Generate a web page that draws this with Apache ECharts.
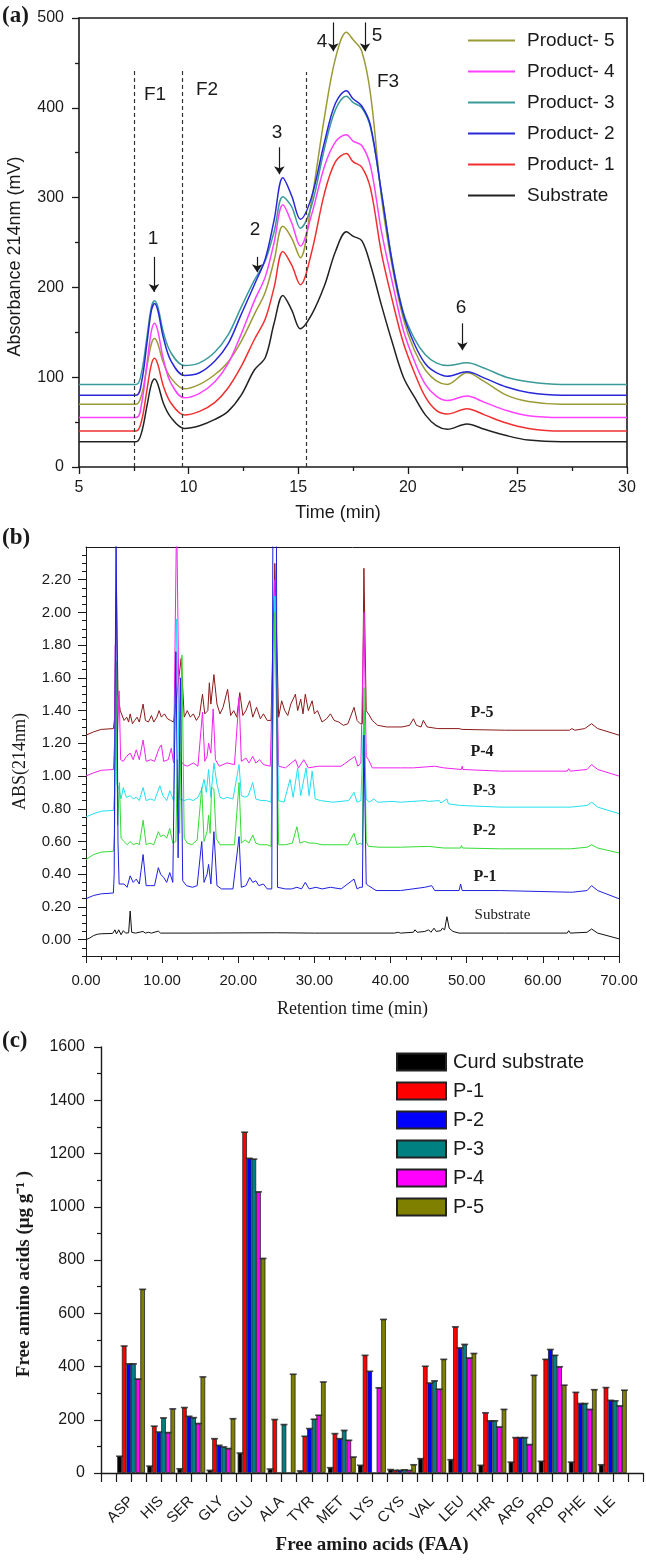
<!DOCTYPE html>
<html><head><meta charset="utf-8">
<script src="https://cdn.jsdelivr.net/npm/echarts@6/dist/echarts.min.js"></script>
<style>html,body{margin:0;padding:0;background:#fff}#c{width:646px;height:1561px}</style>
</head><body><div id="c"></div>
<script>
// ================= Panel (a): SEC chromatograms =================
const timeA = [5, 7.6, 7.85, 8.1, 8.3, 8.45, 8.6, 8.85, 9.2, 9.8, 10.5, 11.2, 11.8, 12.4, 13.0, 13.5, 13.9, 14.3, 14.7, 15.1, 15.6, 16.2, 16.7, 17.2, 17.5, 17.9, 18.3, 18.8, 19.3, 19.8, 20.3, 20.8, 21.3, 21.8, 22.7, 23.5, 24.5, 25.5, 27, 30];
const substrateA = [28,28,38,68,92,98,92,71,55,43, 46,53,62,80,108,122,160,191,175,154, 169,202,240,262,257,252,225,180,138,100, 78,58,46,42,48,42,35,30,28,28];
const product1A = [40,40,51,86,114,121,114,90,71,58, 62,72,88,112,142,165,200,240,225,203, 238,305,340,349,340,334,310,238,185,138, 105,78,63,59,65,58,49,43,40,40];
const product2A = [80,80,94,138,174,182,174,144,118,102, 105,118,137,170,203,232,275,322,302,276, 300,362,405,419,410,402,380,305,226,170, 137,115,105,101,106,99,89,83,80,80];
const product3A = [92,92,105,145,178,185,178,150,127,113, 116,128,147,178,208,230,262,301,290,266, 290,355,398,413,406,400,378,305,228,172, 143,125,116,113,116,110,100,95,92,92];
const product4A = [55,55,70,115,151,160,151,120,93,77, 82,95,115,148,185,212,250,292,272,246, 280,335,362,370,363,358,335,262,205,152, 118,92,79,74,79,72,63,57,55,55];
const product5A = [70,70,80,112,137,143,137,116,99,87, 92,103,117,140,170,195,230,268,255,233, 295,390,455,484,476,463,415,300,222,165, 130,108,96,92,105,95,80,73,70,70];
const namesA = ['Product- 5','Product- 4','Product- 3','Product- 2','Product- 1','Substrate'];
// fraction boundaries (x, top value), peak arrows (x, from, to), labels
const dashA = [[7.51, 443], [9.73, 441], [15.36, 440]];
const arrowsA = [[8.42, 234, 195], [13.13, 234, 217], [14.14, 356, 326], [16.6, 495, 463], [18.05, 495, 463], [22.49, 160, 130]];
const textA = [['F1', 8.47, 415], ['F2', 10.84, 420], ['F3', 19.1, 429], ['1', 8.38, 254], ['2', 13.03, 264], ['3', 14.03, 372], ['4', 16.09, 474], ['5', 18.6, 480], ['6', 22.43, 177]];

// ================= Panel (b): RP-HPLC chromatograms =================
const hplcSub = [[0,0.0],[0.5,0.01],[1,0.025],[1.5,0.033],[2,0.036],[3.5,0.038],[3.8,0.06],[4.0,0.035],[4.3,0.06],[4.6,0.03],[4.9,0.055],[5.2,0.04],[5.6,0.042],[5.8,0.175],[6.0,0.045],[6.5,0.04],[7.5,0.05],[7.8,0.04],[8.2,0.045],[8.6,0.04],[9.5,0.052],[9.8,0.04],[13,0.04],[25,0.042],[30,0.04],[40.5,0.04],[41,0.045],[41.3,0.04],[43.0,0.045],[43.2,0.06],[43.5,0.045],[44.5,0.05],[45.0,0.06],[45.3,0.045],[45.7,0.07],[46.0,0.05],[46.6,0.055],[46.8,0.07],[47.1,0.06],[47.4,0.14],[47.7,0.07],[48.2,0.05],[49,0.04],[55,0.04],[63.2,0.04],[63.4,0.055],[63.6,0.04],[65.8,0.045],[66.4,0.065],[67.2,0.04],[70,0.005]];
const hplcP1 = [[0,0.25],[1,0.27],[2,0.28],[3.6,0.285],[3.7,0.4],[3.95,2.6],[4.2,0.6],[4.35,0.34],[4.6,0.33],[5.0,0.34],[5.4,0.32],[5.8,0.39],[6.2,0.35],[6.6,0.37],[7.0,0.34],[7.5,0.52],[7.9,0.33],[8.5,0.33],[9.0,0.33],[9.5,0.44],[9.8,0.40],[10.2,0.38],[10.6,0.35],[11.0,0.41],[11.4,0.35],[11.8,1.76],[12.1,0.5],[12.4,1.6],[12.7,0.36],[13.2,0.33],[14.0,0.32],[14.6,0.33],[15.2,0.60],[15.5,0.35],[15.9,0.40],[16.1,0.46],[16.4,0.34],[16.8,0.66],[17.2,0.33],[17.8,0.31],[18.5,0.31],[19.3,0.31],[20.1,0.63],[20.4,0.32],[21.0,0.33],[21.5,0.38],[21.9,0.35],[22.3,0.36],[22.7,0.33],[23.3,0.34],[23.8,0.31],[24.4,0.31],[24.55,2.6],[25.0,2.6],[25.15,0.32],[26.2,0.31],[27.0,0.31],[27.7,0.32],[28.3,0.31],[28.8,0.35],[29.3,0.31],[30.2,0.32],[31.0,0.31],[32.1,0.32],[33.5,0.31],[35.2,0.37],[35.6,0.31],[36.0,0.32],[36.3,0.32],[36.5,1.25],[36.8,0.34],[37.1,0.33],[38.1,0.30],[41.3,0.30],[44.5,0.32],[45.4,0.33],[45.8,0.30],[49.0,0.30],[49.2,0.34],[49.4,0.30],[54.4,0.30],[63.5,0.29],[63.7,0.30],[63.9,0.29],[65.8,0.30],[66.4,0.33],[67.2,0.30],[70,0.25]];
const hplcP2 = [[0,0.49],[1,0.52],[2,0.535],[3.6,0.54],[3.75,0.65],[3.95,1.7],[4.15,0.7],[4.4,0.96],[4.6,0.62],[5.0,0.60],[5.4,0.58],[5.8,0.60],[6.2,0.58],[6.7,0.59],[7.0,0.58],[7.5,0.73],[7.9,0.58],[8.4,0.59],[8.9,0.58],[9.5,0.66],[9.8,0.63],[10.2,0.64],[10.6,0.62],[11.0,0.68],[11.4,0.59],[11.8,0.6],[12.0,1.1],[12.3,0.65],[12.6,1.74],[12.9,0.62],[13.3,0.59],[13.9,0.58],[14.6,0.61],[15.2,0.93],[15.5,0.60],[15.9,0.66],[16.1,0.76],[16.3,0.65],[16.5,0.93],[16.8,0.92],[17.1,0.62],[17.6,0.58],[18.5,0.58],[19.5,0.58],[20.1,0.96],[20.4,0.59],[20.9,0.61],[21.4,0.59],[21.9,0.64],[22.3,0.59],[22.9,0.58],[23.8,0.58],[24.3,0.57],[24.8,2.0],[25.3,0.58],[26.2,0.58],[27.1,0.59],[27.7,0.69],[28.1,0.59],[28.7,0.60],[29.4,0.59],[30.0,0.59],[31.0,0.58],[32.4,0.58],[34.4,0.58],[35.2,0.65],[35.6,0.58],[36.0,0.59],[36.3,0.58],[36.5,1.54],[36.8,0.60],[37.1,0.57],[38.5,0.565],[41.3,0.565],[45.0,0.57],[47.0,0.56],[49.2,0.56],[49.3,0.575],[49.45,0.56],[54.4,0.555],[63.2,0.555],[63.4,0.565],[63.6,0.555],[65.8,0.565],[66.4,0.58],[67.2,0.56],[70,0.53]];
const hplcP3 = [[0,0.75],[1,0.77],[2,0.785],[3.6,0.79],[3.75,0.9],[3.9,1.55],[4.05,0.95],[4.3,0.93],[4.6,0.86],[4.9,0.93],[5.3,0.87],[5.8,0.88],[6.2,0.86],[6.6,0.87],[7.0,0.85],[7.5,0.93],[7.9,0.85],[8.5,0.86],[9.0,0.85],[9.7,0.94],[10.1,0.88],[10.6,0.85],[11.0,0.91],[11.5,0.85],[11.9,1.96],[12.3,0.86],[12.9,0.85],[13.5,0.86],[14.1,0.85],[14.7,0.87],[15.2,0.92],[15.5,0.98],[15.8,0.90],[16.1,1.04],[16.4,0.87],[16.8,1.08],[17.2,0.95],[17.6,0.87],[18.1,0.86],[18.5,0.87],[19.3,0.86],[20.1,1.07],[20.4,0.88],[20.9,0.87],[21.3,0.88],[21.9,0.96],[22.3,0.86],[23.0,0.85],[23.7,0.85],[24.3,0.84],[24.8,2.1],[25.3,0.85],[26.0,0.84],[26.8,0.98],[27.2,0.87],[27.8,1.05],[28.2,0.88],[28.9,1.05],[29.3,0.88],[29.7,1.03],[30.1,0.86],[30.8,0.85],[32.4,0.84],[34.5,0.85],[35.2,0.90],[35.6,0.84],[36.1,0.85],[36.3,0.85],[36.5,1.4],[36.8,0.86],[37.2,0.84],[37.8,0.86],[38.3,0.84],[40.2,0.845],[41.3,0.84],[44.5,0.85],[45.0,0.845],[46.4,0.85],[46.6,0.835],[47.4,0.86],[47.6,0.83],[49.2,0.82],[54.4,0.81],[63.2,0.81],[63.4,0.82],[63.6,0.81],[65.8,0.82],[66.4,0.84],[67.2,0.81],[70,0.77]];
const hplcP4 = [[0,1.0],[1,1.02],[2,1.035],[3.6,1.04],[3.75,1.2],[3.85,1.8],[3.95,1.1],[4.1,1.2],[4.35,1.52],[4.55,1.1],[4.9,1.09],[5.3,1.12],[5.8,1.14],[6.2,1.10],[6.6,1.16],[7.0,1.10],[7.5,1.22],[7.9,1.09],[8.5,1.10],[9.0,1.09],[9.6,1.17],[9.9,1.19],[10.2,1.09],[10.8,1.10],[11.2,1.17],[11.5,1.08],[11.9,2.6],[12.3,1.10],[12.8,1.07],[13.3,1.06],[14.1,1.08],[14.7,1.06],[15.3,1.39],[15.6,1.09],[15.9,1.12],[16.1,1.20],[16.4,1.14],[16.7,1.41],[17.0,1.10],[17.5,1.06],[18.5,1.08],[19.5,1.07],[20.1,1.48],[20.4,1.09],[21.0,1.11],[21.4,1.08],[21.9,1.12],[22.3,1.08],[22.8,1.10],[23.3,1.07],[24.2,1.06],[24.8,2.2],[25.3,1.06],[26.2,1.05],[27.5,1.10],[27.9,1.05],[28.6,1.10],[29.2,1.05],[30.5,1.06],[32.4,1.06],[33.5,1.06],[35.3,1.12],[35.7,1.06],[36.1,1.08],[36.3,1.08],[36.5,2.0],[36.8,1.12],[37.1,1.10],[37.6,1.05],[41.3,1.05],[43.0,1.05],[45.8,1.06],[47.0,1.05],[49.3,1.04],[49.4,1.06],[49.5,1.04],[54.4,1.03],[63.2,1.03],[63.4,1.045],[63.6,1.03],[65.8,1.04],[66.4,1.07],[67.2,1.04],[70,1.0]];
const hplcP5 = [[0,1.25],[1,1.27],[2,1.285],[3.6,1.29],[3.75,1.35],[4.0,2.15],[4.2,1.5],[4.5,1.4],[4.7,1.40],[5.0,1.34],[5.35,1.36],[5.6,1.33],[5.8,1.38],[6.1,1.32],[6.4,1.34],[6.7,1.36],[7.0,1.33],[7.5,1.44],[7.8,1.34],[8.2,1.33],[8.6,1.37],[8.9,1.33],[9.3,1.36],[9.6,1.40],[9.9,1.36],[10.3,1.38],[10.7,1.35],[11.1,1.34],[11.5,1.33],[12.5,1.72],[12.9,1.36],[13.3,1.40],[13.7,1.36],[14.1,1.38],[14.5,1.34],[14.9,1.37],[15.3,1.50],[15.6,1.38],[16.0,1.40],[16.2,1.57],[16.4,1.44],[16.8,1.62],[17.2,1.44],[17.6,1.38],[18.0,1.42],[18.6,1.53],[19.0,1.37],[19.4,1.40],[19.8,1.36],[20.2,1.51],[20.6,1.37],[21.0,1.40],[21.5,1.46],[21.9,1.36],[22.4,1.42],[22.9,1.35],[23.3,1.38],[23.8,1.34],[24.3,1.34],[24.8,2.3],[25.3,1.36],[25.7,1.46],[26.1,1.40],[26.5,1.37],[26.9,1.44],[27.5,1.50],[27.8,1.40],[28.2,1.47],[28.5,1.38],[28.8,1.50],[29.2,1.40],[29.7,1.46],[30.0,1.38],[30.4,1.40],[31.0,1.33],[31.6,1.35],[32.1,1.38],[32.6,1.34],[33.2,1.33],[33.8,1.31],[34.4,1.32],[35.2,1.42],[35.6,1.34],[36.0,1.32],[36.3,1.32],[36.5,2.27],[36.8,1.40],[37.1,1.38],[37.6,1.34],[38.3,1.31],[39.5,1.30],[41.5,1.30],[42.5,1.31],[43.0,1.35],[43.4,1.31],[44.0,1.30],[44.3,1.34],[44.8,1.30],[46.2,1.29],[49.0,1.29],[49.2,1.30],[49.4,1.285],[55,1.28],[63.5,1.28],[63.8,1.29],[64.2,1.28],[65.5,1.29],[66.4,1.32],[67.2,1.29],[70,1.25]];
const yTicksB = [0, 0.2, 0.4, 0.6, 0.8, 1.0, 1.2, 1.4, 1.6, 1.8, 2.0, 2.2];
const textB = [['P-5', 52.0, 1.386], ['P-4', 52.0, 1.147], ['P-3', 52.3, 0.909], ['P-2', 52.3, 0.664], ['P-1', 52.4, 0.382], ['Substrate', 54.7, 0.149]];

// ================= Panel (c): free amino acids =================
const faaCats = ['ASP','HIS','SER','GLY','GLU','ALA','TYR','MET','LYS','CYS','VAL','LEU','THR','ARG','PRO','PHE','ILE'];
const faaCurd = [63,26,16,10,75,15,8,20,29,13,54,50,29,41,44,41,31];
const faaP1 = [477,176,246,129,1280,201,138,148,442,10,401,549,226,133,427,303,321];
const faaP2 = [410,154,213,104,1182,0,167,129,382,10,338,470,196,133,464,261,273];
const faaP3 = [410,207,208,98,1179,182,202,160,0,12,346,483,196,133,442,261,271];
const faaP4 = [353,152,186,92,1056,0,217,123,320,10,315,432,173,107,399,239,252];
const faaP5 = [690,241,361,204,806,371,342,60,577,31,427,449,239,367,330,313,311];
const namesC = ['Curd substrate','P-1','P-2','P-3','P-4','P-5'];

// ================= styles =================
const SANS = 'Liberation Sans, Arial, Helvetica, sans-serif';
const SERIF = 'Liberation Serif, Times New Roman, serif';
const INK = '#1a1a1a';
const colA = ['#9b9b35','#ff40ff','#3a9a9a','#2828d8','#f03030','#222222'];
const colB = {sub:'#111111', p1:'#1f1fe0', p2:'#33dd33', p3:'#22e0f0', p4:'#ee22ee', p5:'#8b1a1a'};
const colC = ['#000000','#ff0000','#0000ff','#008080','#ff00ff','#808000'];

const zip = (t, v) => t.map((x, i) => [x, v[i]]);
const minorB = [];
for (let k = -2; k <= 48; k++) { if (k % 4 !== 0) minorB.push(+(k * 0.05).toFixed(2)); }
const halfC = [];
for (let k = 0; k <= 17; k++) halfC.push(k + 0.5);

const axLine = (w) => ({show: true, onZero: false, lineStyle: {color: INK, width: w}});
const frameX = (g, w) => ({gridIndex: g, type: 'value', position: 'top', axisLine: axLine(w), axisTick: {show: false}, axisLabel: {show: false}, splitLine: {show: false}});
const frameY = (g, w) => ({gridIndex: g, type: 'value', position: 'right', axisLine: axLine(w), axisTick: {show: false}, axisLabel: {show: false}, splitLine: {show: false}});

const seriesA = [product5A, product4A, product3A, product2A, product1A, substrateA].map((arr, i) => ({
  name: namesA[i], type: 'line', xAxisIndex: 0, yAxisIndex: 0, data: zip(timeA, arr),
  symbol: 'none', smooth: 0.35, lineStyle: {color: colA[i], width: 1.5}, itemStyle: {color: colA[i]}, z: 3
}));
// dashed fraction boundaries
seriesA[5].markLine = {
  silent: true, symbol: ['none', 'none'], animation: false, label: {show: false},
  lineStyle: {type: [4, 3], color: '#333', width: 1.2},
  data: dashA.map(d => [{coord: [d[0], 0]}, {coord: [d[0], d[1]]}])
};
// peak arrows
seriesA[4].markLine = {
  silent: true, symbol: ['none', 'arrow'], symbolSize: 8, animation: false, label: {show: false},
  lineStyle: {type: 'solid', color: INK, width: 1.2}, itemStyle: {color: INK},
  data: arrowsA.map(a => [{coord: [a[0], a[1]]}, {coord: [a[0], a[2]]}])
};
seriesA[3].markPoint = {
  silent: true, symbol: 'circle', symbolSize: 1, animation: false, itemStyle: {color: 'rgba(0,0,0,0)'},
  label: {show: true, position: 'inside', formatter: '{b}', fontSize: 19, color: INK, fontFamily: SANS},
  data: textA.map(t => ({name: t[0], coord: [t[1], t[2]]}))
};

const hplcList = [['Substrate (HPLC)', hplcSub, colB.sub], ['P-5 (HPLC)', hplcP5, colB.p5], ['P-4 (HPLC)', hplcP4, colB.p4], ['P-3 (HPLC)', hplcP3, colB.p3], ['P-2 (HPLC)', hplcP2, colB.p2], ['P-1 (HPLC)', hplcP1, colB.p1]];
const seriesB = hplcList.map(h => ({
  name: h[0], type: 'line', xAxisIndex: 2, yAxisIndex: 2, data: h[1], symbol: 'none', clip: true,
  lineStyle: {color: h[2], width: 1}, itemStyle: {color: h[2]}
}));
seriesB[0].markPoint = {
  silent: true, symbol: 'circle', symbolSize: 1, animation: false, itemStyle: {color: 'rgba(0,0,0,0)'},
  label: {show: true, position: 'inside', formatter: '{b}', fontSize: 16, fontWeight: 'bold', color: INK, fontFamily: SERIF},
  data: textB.map(t => ({name: t[0], coord: [t[1], t[2]], label: t[0] === 'Substrate' ? {fontWeight: 'normal', fontSize: 15} : {}}))
};

const catsC = [''].concat(faaCats).concat(['']);
const pad = (arr) => ['-'].concat(arr).concat(['-']);
const valsC = [faaCurd, faaP1, faaP2, faaP3, faaP4, faaP5];
const seriesC = valsC.map((arr, i) => ({
  name: namesC[i], type: 'bar', xAxisIndex: 4, yAxisIndex: 5, data: pad(arr),
  barGap: '0%', barCategoryGap: '8%',
  itemStyle: {color: colC[i], borderColor: '#222', borderWidth: 0.8}
}));
// error-bar caps on top of each bar (offset to the bar's slot within the group)
const slotW = 542 / 18 * 0.92 / 6;
const capsC = valsC.map((arr, i) => ({
  name: 'cap ' + i, type: 'scatter', xAxisIndex: 4, yAxisIndex: 5, silent: true, z: 5,
  data: pad(arr.map(v => v > 0 ? v : '-')),
  symbol: 'rect', symbolSize: [7, 1.6], symbolOffset: [(i - 2.5) * slotW, 0],
  itemStyle: {color: '#222'}
}));

const option = {
  animation: false,
  backgroundColor: '#ffffff',
  textStyle: {fontFamily: SANS},
  grid: [
    {left: 79, top: 18, width: 548, height: 449, outerBoundsMode: 'none'},
    {left: 86, top: 547, width: 533, height: 409, outerBoundsMode: 'none'},
    {left: 101, top: 1047, width: 542, height: 426, outerBoundsMode: 'none'}
  ],
  legend: [
    {data: namesA, orient: 'vertical', left: 463, top: 26, itemWidth: 47, itemHeight: 2, itemGap: 12, icon: 'rect', selectedMode: false,
     textStyle: {fontSize: 19, fontFamily: SANS, color: INK, lineHeight: 14, padding: [0, 0, 0, 7]}},
    {data: namesC, orient: 'vertical', left: 391, top: 1047, itemWidth: 49, itemHeight: 17, itemGap: 9, icon: 'rect', selectedMode: false,
     textStyle: {fontSize: 20, fontFamily: SANS, color: INK, lineHeight: 17, padding: [0, 0, 0, 2]}}
  ],
  xAxis: [
    {gridIndex: 0, type: 'value', min: 5, max: 30, interval: 5, axisLine: axLine(1.6),
     axisTick: {length: 7, lineStyle: {color: INK, width: 1.3}},
     minorTick: {show: true, splitNumber: 2, length: 4, lineStyle: {color: INK, width: 1.3}},
     splitLine: {show: false}, minorSplitLine: {show: false},
     axisLabel: {fontSize: 16, color: INK, fontFamily: SANS, margin: 13},
     name: 'Time (min)', nameLocation: 'middle', nameGap: 37,
     nameTextStyle: {fontSize: 18, color: INK, fontFamily: SANS, padding: [0, 30, 0, 0]}},
    frameX(0, 1.6),
    {gridIndex: 1, type: 'value', min: 0, max: 70, interval: 10, axisLine: axLine(1),
     axisTick: {length: 7, lineStyle: {color: INK}},
     minorTick: {show: true, splitNumber: 5, length: 4, lineStyle: {color: INK}},
     splitLine: {show: false}, minorSplitLine: {show: false},
     axisLabel: {fontSize: 15, color: INK, fontFamily: SANS, margin: 17, formatter: v => v.toFixed(2)},
     name: 'Retention time (min)', nameLocation: 'middle', nameGap: 44,
     nameTextStyle: {fontSize: 18, color: INK, fontFamily: SERIF}},
    frameX(1, 1),
    {gridIndex: 2, type: 'category', data: catsC, boundaryGap: false, position: 'bottom', axisLine: axLine(1.4),
     axisTick: {show: true, interval: 0, length: 9, lineStyle: {color: INK, width: 1.2}},
     axisLabel: {interval: 0, rotate: 45, fontSize: 15, color: INK, fontFamily: SANS, margin: 26},
     splitLine: {show: false},
     name: 'Free amino acids (FAA)', nameLocation: 'middle', nameGap: 63,
     nameTextStyle: {fontSize: 19, fontWeight: 'bold', color: INK, fontFamily: SERIF}},
    {gridIndex: 2, type: 'value', min: 0, max: 18, position: 'bottom', axisLine: {show: false, onZero: false},
     axisTick: {show: true, customValues: halfC, length: 9, lineStyle: {color: INK, width: 1.2}},
     axisLabel: {show: false}, splitLine: {show: false}}
  ],
  yAxis: [
    {gridIndex: 0, type: 'value', min: 0, max: 500, interval: 100, position: 'left', axisLine: axLine(1.6),
     axisTick: {length: 7, lineStyle: {color: INK, width: 1.3}},
     minorTick: {show: true, splitNumber: 2, length: 4, lineStyle: {color: INK, width: 1.3}},
     splitLine: {show: false}, minorSplitLine: {show: false},
     axisLabel: {fontSize: 16, color: INK, fontFamily: SANS, margin: 15},
     name: 'Absorbance 214nm (mV)', nameLocation: 'middle', nameGap: 55,
     nameTextStyle: {fontSize: 18, color: INK, fontFamily: SANS, padding: [0, 28, 0, 0]}},
    frameY(0, 1.6),
    {gridIndex: 1, type: 'value', min: -0.1, max: 2.4, position: 'left', axisLine: axLine(1),
     axisTick: {show: true, customValues: yTicksB, length: 8, lineStyle: {color: INK}},
     axisLabel: {customValues: yTicksB, fontSize: 15, color: INK, fontFamily: SANS, margin: 15, formatter: v => v.toFixed(2)},
     splitLine: {show: false},
     name: 'ABS(214nm)', nameLocation: 'middle', nameGap: 57,
     nameTextStyle: {fontSize: 18, color: INK, fontFamily: SERIF, padding: [0, 20, 0, 0]}},
    {gridIndex: 1, type: 'value', min: -0.1, max: 2.4, position: 'left', offset: 0, axisLine: {show: false, onZero: false},
     axisTick: {show: true, customValues: minorB, length: 4, lineStyle: {color: INK}},
     axisLabel: {show: false}, splitLine: {show: false}},
    frameY(1, 1),
    {gridIndex: 2, type: 'value', min: 0, max: 1600, interval: 200, position: 'left', axisLine: axLine(1.4),
     axisTick: {length: 7, lineStyle: {color: INK, width: 1.2}},
     minorTick: {show: true, splitNumber: 2, length: 4, lineStyle: {color: INK, width: 1.2}},
     splitLine: {show: false}, minorSplitLine: {show: false},
     axisLabel: {fontSize: 16, color: INK, fontFamily: SANS, margin: 16, formatter: v => String(v)},
     name: 'Free amino acids (μg g⁻¹ )', nameLocation: 'middle', nameGap: 67,
     nameTextStyle: {fontSize: 19, fontWeight: 'bold', color: INK, fontFamily: SERIF, padding: [0, 28, 0, 0]}}
  ],
  graphic: [
    {type: 'text', left: 2, top: 5, style: {text: '(a)', font: 'bold 23px ' + SERIF, fill: INK}},
    {type: 'text', left: 2, top: 527, style: {text: '(b)', font: 'bold 23px ' + SERIF, fill: INK}},
    {type: 'text', left: 2, top: 1030, style: {text: '(c)', font: 'bold 23px ' + SERIF, fill: INK}}
  ],
  series: seriesA.concat(seriesB).concat(seriesC).concat(capsC)
};
const chart = echarts.init(document.getElementById('c'), null, {renderer: 'canvas', width: 646, height: 1561});
chart.setOption(option);
</script>
</body></html>
